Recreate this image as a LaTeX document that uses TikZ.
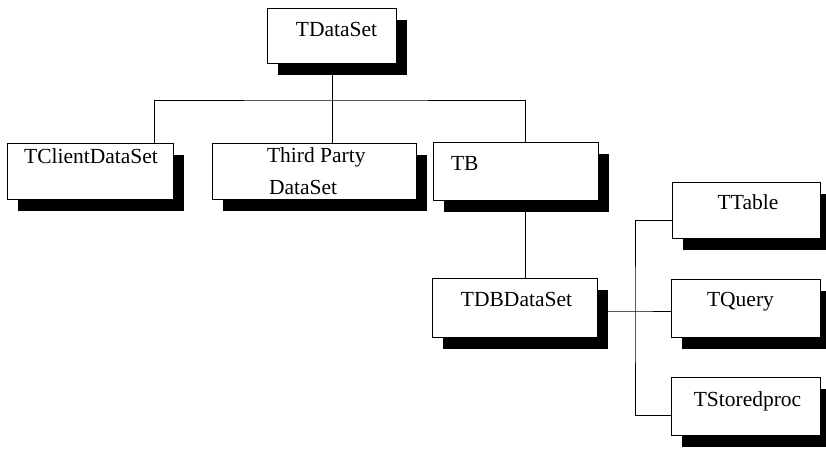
\documentclass[tikz,border=0pt]{standalone}
\usepackage{fontspec}
\setmainfont{Liberation Serif}
\usetikzlibrary{shadows,calc}
\begin{document}
\begin{tikzpicture}[x=1bp,y=-1bp,
  box/.style={draw, fill=white, line width=0.9bp, inner sep=0pt,
    drop shadow={shadow xshift=11bp, shadow yshift=-12bp, opacity=1, fill=black}},
  frame/.style={inner sep=0pt},
  txt/.style={font=\fontsize{21.5bp}{32bp}\selectfont, inner sep=0pt},
  conn/.style={line width=0.9bp}]
\useasboundingbox (0,0) rectangle (826,449);
% node frames (for connector anchoring)
\node[frame, minimum width=129bp, minimum height=55bp] (tdataset) at (331.5,35.5) {};
\node[frame, minimum width=166bp, minimum height=56bp] (tclient) at (90,171) {};
\node[frame, minimum width=204bp, minimum height=56bp] (third) at (314,171) {};
\node[frame, minimum width=165bp, minimum height=58bp] (tb) at (515.5,171.5) {};
\node[frame, minimum width=165bp, minimum height=59bp] (tdb) at (514.5,307.5) {};
\node[frame, minimum width=148bp, minimum height=56bp] (ttable) at (746,210) {};
\node[frame, minimum width=149bp, minimum height=58bp] (tquery) at (745.5,308) {};
\node[frame, minimum width=149bp, minimum height=58bp] (tstored) at (745.5,406) {};
% connectors
\coordinate (bus) at (332,100);
\coordinate (fork) at (635,311);
\draw[conn] (tdataset.south -| bus) -- (bus);
\draw[conn] ($(tclient.north)+(64,0)$) |- (bus) -| ($(tb.north)+(9.5,0)$);
\draw[conn] (third.north -| bus) -- (bus);
\draw[conn] ($(tb.south)+(9.5,0)$) -- ($(tdb.north)+(10.5,0)$);
\draw[conn] (tdb.east |- fork) -- (fork) -- (tquery.west |- fork);
\draw[conn] ($(ttable.west)+(0,10)$) -| (fork) |- ($(tstored.west)+(0,9)$);
% boxes
\node[box, minimum width=129bp, minimum height=55bp] (tdatasetb) at (tdataset) {};
\node[txt, anchor=base] (tdatasett) at ($(tdataset.north)+(5,29)$) {TDataSet};
\node[box, minimum width=166bp, minimum height=56bp] (tclientb) at (tclient) {};
\node[txt, anchor=base] (tclientt) at ($(tclient.north)+(1,21)$) {TClientDataSet};
\node[box, minimum width=204bp, minimum height=56bp] (thirdb) at (third) {};
\node[txt, anchor=base west] (thirdt1) at ($(third.north west)+(55,20)$) {Third Party};
\node[txt, anchor=base west] (thirdt2) at ($(third.north west)+(57,52)$) {DataSet};
\node[box, minimum width=165bp, minimum height=58bp] (tbb) at (tb) {};
\node[txt, anchor=base west] (tbt) at ($(tb.north west)+(18,28)$) {TB};
\node[box, minimum width=165bp, minimum height=59bp] (tdbb) at (tdb) {};
\node[txt, anchor=base] (tdbt) at ($(tdb.north)+(2,29)$) {TDBDataSet};
\node[box, minimum width=148bp, minimum height=56bp] (ttableb) at (ttable) {};
\node[txt, anchor=base] (ttablet) at ($(ttable.north)+(2,28)$) {TTable};
\node[box, minimum width=149bp, minimum height=58bp] (tqueryb) at (tquery) {};
\node[txt, anchor=base] (tqueryt) at ($(tquery.north)+(-5,28)$) {TQuery};
\node[box, minimum width=149bp, minimum height=58bp] (tstoredb) at (tstored) {};
\node[txt, anchor=base] (tstoredt) at ($(tstored.north)+(2,30)$) {TStoredproc};
\end{tikzpicture}
\end{document}
